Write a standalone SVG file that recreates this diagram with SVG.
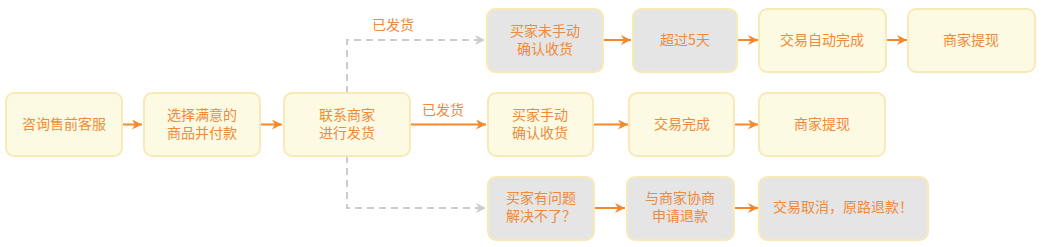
<svg xmlns="http://www.w3.org/2000/svg" width="1042" height="247" viewBox="0 0 1042 247">
<style>
.y{fill:#fdfae3;stroke:#f8eab8;stroke-width:2}
.g{fill:#e5e5e5;stroke:#f8eab8;stroke-width:2}
text{font-family:"Noto Sans CJK SC","Liberation Sans",sans-serif;font-size:14px;fill:#ef8a3a;text-anchor:middle}
.o{stroke:#f5882c;stroke-width:2;fill:none}
.d{stroke:#cccccc;stroke-width:2;fill:none;stroke-dasharray:7 5}
</style>
<defs>
<marker id="ao" markerWidth="12" markerHeight="12" refX="10" refY="5" orient="auto" markerUnits="userSpaceOnUse"><path d="M0,0 L10,5 L0,10 L3,5 Z" fill="#f5882c"/></marker>
<marker id="ag" markerWidth="12" markerHeight="12" refX="10" refY="5" orient="auto" markerUnits="userSpaceOnUse"><path d="M0,0 L10,5 L0,10 L3,5 Z" fill="#cccccc"/></marker>
</defs>
<g id="connectors">
<path class="o" d="M122,124.5 H142" marker-end="url(#ao)"/>
<path class="o" d="M260,124.5 H282" marker-end="url(#ao)"/>
<path class="o" d="M410,124.5 H486" marker-end="url(#ao)"/>
<path class="d" d="M347,93 V40 H485" marker-end="url(#ag)"/>
<path class="d" d="M347,156 V208 H486" marker-end="url(#ag)"/>
<path class="o" d="M603,40 H631" marker-end="url(#ao)"/>
<path class="o" d="M737,40 H758" marker-end="url(#ao)"/>
<path class="o" d="M886,40 H907" marker-end="url(#ao)"/>
<path class="o" d="M593,124.5 H628" marker-end="url(#ao)"/>
<path class="o" d="M734,124.5 H758" marker-end="url(#ao)"/>
<path class="o" d="M594,208 H625" marker-end="url(#ao)"/>
<path class="o" d="M734,208 H758" marker-end="url(#ao)"/>
<text x="393" y="30">已发货</text>
<text x="443" y="115">已发货</text>
</g>
<g id="n1"><rect class="y" x="6" y="93" width="116" height="63" rx="8"/><text x="64" y="129">咨询售前客服</text></g>
<g id="n2"><rect class="y" x="144" y="93" width="116" height="63" rx="8"/><text x="202" y="120">选择满意的</text><text x="202" y="138">商品并付款</text></g>
<g id="n3"><rect class="y" x="284" y="93" width="126" height="63" rx="8"/><text x="347" y="120">联系商家</text><text x="347" y="138">进行发货</text></g>
<g id="n4"><rect class="g" x="487" y="9" width="116" height="63" rx="8"/><text x="545" y="36">买家未手动</text><text x="545" y="54">确认收货</text></g>
<g id="n5"><rect class="g" x="633" y="9" width="104" height="63" rx="8"/><text x="685" y="45">超过5天</text></g>
<g id="n6"><rect class="y" x="759" y="9" width="127" height="63" rx="8"/><text x="822" y="45">交易自动完成</text></g>
<g id="n7"><rect class="y" x="908" y="9" width="127" height="63" rx="8"/><text x="971" y="45">商家提现</text></g>
<g id="n8"><rect class="y" x="488" y="93" width="105" height="63" rx="8"/><text x="540" y="120">买家手动</text><text x="540" y="138">确认收货</text></g>
<g id="n9"><rect class="y" x="629" y="93" width="105" height="63" rx="8"/><text x="682" y="129">交易完成</text></g>
<g id="n10"><rect class="y" x="759" y="93" width="126" height="63" rx="8"/><text x="822" y="129">商家提现</text></g>
<g id="n11"><rect class="g" x="488" y="177" width="106" height="63" rx="8"/><text x="541" y="203">买家有问题</text><text x="541" y="221">解决不了？</text></g>
<g id="n12"><rect class="g" x="627" y="177" width="107" height="63" rx="8"/><text x="680" y="203">与商家协商</text><text x="680" y="221">申请退款</text></g>
<g id="n13"><rect class="g" x="759" y="177" width="169" height="63" rx="8"/><text x="843" y="212">交易取消，原路退款！</text></g>
</svg>
